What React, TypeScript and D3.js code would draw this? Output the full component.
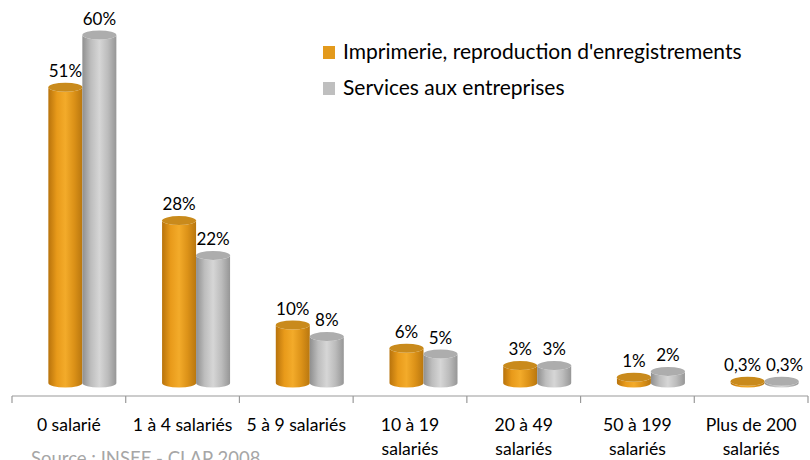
import React from 'react';
import * as d3 from 'd3';

const categories = [
  ['0 salarié'],
  ['1 à 4 salariés'],
  ['5 à 9 salariés'],
  ['10 à 19', 'salariés'],
  ['20 à 49', 'salariés'],
  ['50 à 199', 'salariés'],
  ['Plus de 200', 'salariés'],
];
const seriesNames = ["Imprimerie, reproduction d'enregistrements", 'Services aux entreprises'];
const imprimerie = [51, 28, 10, 6, 3, 1, 0.3];
const services = [60, 22, 8, 5, 3, 2, 0.3];
const valueLabels = [
  ['51%', '28%', '10%', '6%', '3%', '1%', '0,3%'],
  ['60%', '22%', '8%', '5%', '3%', '2%', '0,3%'],
];

const W = 810;
const H = 460;
const FONT = 'Lato, "Open Sans", sans-serif';

const seriesStyle = [
  { id: 'gOr', stops: ['#b8730c', '#e89a1a', '#f3ab2a', '#dc9218', '#b9770f'], top: '#c98b1c', legend: '#e39a1c' },
  { id: 'gGr', stops: ['#8f8f8f', '#bdbdbd', '#d6d6d6', '#bcbcbc', '#969696'], top: '#adadad', legend: '#bfbfbf' },
];

export default function App() {
  const x = d3.scaleBand<number>().domain(d3.range(categories.length)).range([12, 808]).padding(0);
  const y = d3.scaleLinear().domain([0, 60]).range([383, 35]);
  const inner = d3.scaleBand<number>().domain([0, 1]).range([-34, 34]).padding(0);
  const depth = 13.5;
  const ry = 4.5;
  const data = [imprimerie, services];

  const cyl = (xl: number, w: number, yTop: number, yBase: number, s: number, key: string) => {
    const rx = w / 2;
    const xr = xl + w;
    const body = `M${xl},${yTop} L${xl},${yBase} A${rx},${ry} 0 0 0 ${xr},${yBase} L${xr},${yTop} A${rx},${ry} 0 0 1 ${xl},${yTop} Z`;
    return (
      <g key={key}>
        <path d={body} fill={`url(#${seriesStyle[s].id})`} />
        <ellipse cx={xl + rx} cy={yTop} rx={rx} ry={ry} fill={seriesStyle[s].top} />
        <ellipse cx={xl + rx} cy={yTop} rx={rx - 1} ry={ry - 1} fill={seriesStyle[s].top} opacity={0.6} />
      </g>
    );
  };

  return (
    <svg width={W} height={H} style={{ position: 'absolute', left: 0, top: 0, background: '#fff' }}>
      <defs>
        {seriesStyle.map((st) => (
          <linearGradient key={st.id} id={st.id} x1="0" x2="1" y1="0" y2="0">
            {st.stops.map((c, i) => (
              <stop key={i} offset={`${(i / (st.stops.length - 1)) * 100}%`} stopColor={c} />
            ))}
          </linearGradient>
        ))}
      </defs>

      {/* bars */}
      {categories.map((_, i) => {
        const cx = (x(i) as number) + x.bandwidth() / 2 + depth;
        return data.map((vals, s) => {
          const xl = cx + (inner(s) as number);
          return cyl(xl, inner.bandwidth(), y(vals[i]), y(0), s, `b${i}-${s}`);
        });
      })}

      {/* value labels */}
      {categories.map((_, i) => {
        const cx = (x(i) as number) + x.bandwidth() / 2 + depth;
        return data.map((vals, s) => {
          const xc = cx + (inner(s) as number) + inner.bandwidth() / 2 + (i === 6 ? (s === 0 ? -5 : 3) : 0);
          return (
            <text key={`l${i}-${s}`} x={xc} y={y(vals[i]) - ry - 6} textAnchor="middle"
              fontFamily={FONT} fontSize={17} fill="#000">
              {valueLabels[s][i]}
            </text>
          );
        });
      })}

      {/* axis */}
      <line x1={12} x2={808} y1={396} y2={396} stroke="#9a9a9a" strokeWidth={1.2} />
      {[...x.domain().map((d) => x(d) as number), 808].map((t, i) => (
        <line key={`t${i}`} x1={t} x2={t} y1={396} y2={403} stroke="#9a9a9a" strokeWidth={1.2} />
      ))}
      {categories.map((lines, i) => (
        <text key={`c${i}`} x={(x(i) as number) + x.bandwidth() / 2} y={431} textAnchor="middle"
          fontFamily={FONT} fontSize={17.6} fill="#000">
          {lines.map((ln, k) => (
            <tspan key={k} x={(x(i) as number) + x.bandwidth() / 2} dy={k === 0 ? 0 : 24}>{ln}</tspan>
          ))}
        </text>
      ))}

      {/* legend */}
      {seriesNames.map((name, s) => (
        <g key={`lg${s}`} transform={`translate(323, ${46 + s * 36})`}>
          <rect x={0} y={0} width={12} height={13} fill={seriesStyle[s].legend} />
          <text x={20} y={13} fontFamily={FONT} fontSize={21} fill="#000">{name}</text>
        </g>
      ))}

      <text x={31} y={465} fontFamily={FONT} fontSize={18.5} fill="#a6a6a6">Source : INSEE - CLAP 2008</text>
    </svg>
  );
}
